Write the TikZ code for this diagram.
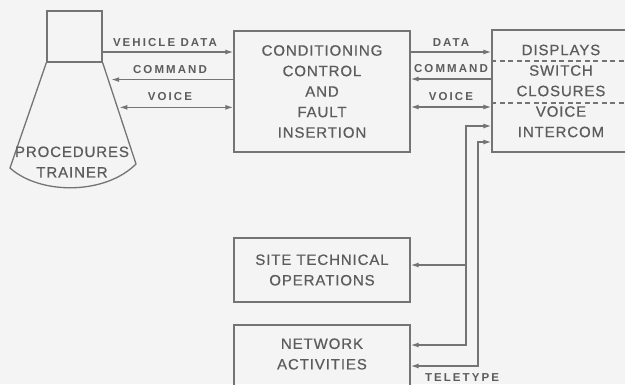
\documentclass[tikz,border=0pt]{standalone}
\usepackage{fontspec}
\usetikzlibrary{arrows.meta,calc}
\newfontfamily\boxfont{Liberation Sans}[LetterSpace=6, FakeBold=0.6]
\newfontfamily\labfont{Liberation Sans Bold}[LetterSpace=18]
\definecolor{paper}{HTML}{F4F4F4}
\definecolor{ink}{HTML}{747474}
\definecolor{txt}{HTML}{5C5C5C}
\tikzset{
  tip/.tip={Latex[length=8pt,width=5pt]},
  unit/.style={draw=ink, line width=1.3pt, inner sep=0pt, text=txt, align=center,
    font=\boxfont\fontsize{15}{20.5}\selectfont},
  boxtext/.style={inner sep=0pt, text=txt, align=center,
    font=\boxfont\fontsize{15}{20.5}\selectfont},
  signal/.style={draw=ink, line width=1.3pt, arrows={-tip}},
  both/.style={draw=ink, line width=1.3pt, arrows={tip-tip}},
  plain/.style={draw=ink, line width=1.3pt},
  sep/.style={draw=ink, line width=1.2pt, dash pattern=on 5pt off 3.5pt},
  tag/.style={inner sep=0pt, text=txt, font=\labfont\fontsize{11.5}{12}\selectfont}
}
\begin{document}
\begin{tikzpicture}[x=1pt, y=-1pt]
\fill[paper] (0,0) rectangle (625,384);
\useasboundingbox (0,0) rectangle (625,384);
\clip (0,0) rectangle (625,384);

% procedures trainer: cabin on a flared base
\node[unit, minimum width=55, minimum height=51] (cab) at (74.5,36.5) {};
\coordinate (lb) at (10,168);
\coordinate (rb) at (136,164);
\draw[plain] (cab.south west) -- (lb) .. controls (40,195) and (105,195) .. (rb) -- (cab.south east);
\node[boxtext] (trainer) at (72,162) {PROCEDURES\\TRAINER};
\coordinate (ecmd) at ($(cab.south east)!0.167!(rb)+(3,0)$);
\coordinate (evoice) at ($(cab.south east)!0.441!(rb)+(2,0)$);

% main units
\node[unit, minimum width=176, minimum height=121] (cond) at (322,91.5)
  {CONDITIONING\\CONTROL\\AND\\FAULT\\INSERTION};
\node[unit, minimum width=138, minimum height=122] (disp) at (561,91)
  {DISPLAYS\\SWITCH\\CLOSURES\\VOICE\\INTERCOM};
\draw[sep] (disp.west |- 0,61) -- (disp.east |- 0,61);
\draw[sep] (disp.west |- 0,103) -- (disp.east |- 0,103);
\node[unit, minimum width=176, minimum height=64] (site) at (322,270)
  {SITE TECHNICAL\\OPERATIONS};
\node[unit, minimum width=176, minimum height=80] (net) at (322,365) {};
\node[boxtext] (netlabel) at (322,354) {NETWORK\\ACTIVITIES};

% trainer <-> conditioning
\draw[signal] (cab.east |- 0,52) -- (cond.west |- 0,52);
\draw[signal] (cond.west |- ecmd) -- (ecmd);
\draw[both] (evoice) -- (cond.west |- evoice);
\node[tag] (lvd) at (165,43) {VEHICLE DATA};
\node[tag] (lcmd) at (170,70) {COMMAND};
\node[tag] (lvoice) at (170,97) {VOICE};

% conditioning <-> displays
\draw[signal] (cond.east |- 0,52) -- (disp.west |- 0,52);
\draw[signal] (disp.west |- 0,79) -- (cond.east |- 0,79);
\draw[both] (cond.east |- 0,107) -- (disp.west |- 0,107);
\node[tag] (rdata) at (451,43) {DATA};
\node[tag] (rcmd) at (451,69) {COMMAND};
\node[tag] (rvoice) at (451,97) {VOICE};

% voice intercom and teletype trunks
\coordinate (tap) at (466,265);
\draw[both] (net.east |- 0,345) -- (466,345) -- (466,126) -- (disp.west |- 0,126);
\draw[signal] (tap) -- (site.east |- tap);
\draw[both] (net.east |- 0,366) -- (478,366) -- (478,142) -- (disp.west |- 0,142);
\node[tag] (ltty) at (462,378) {TELETYPE};
\end{tikzpicture}
\end{document}
